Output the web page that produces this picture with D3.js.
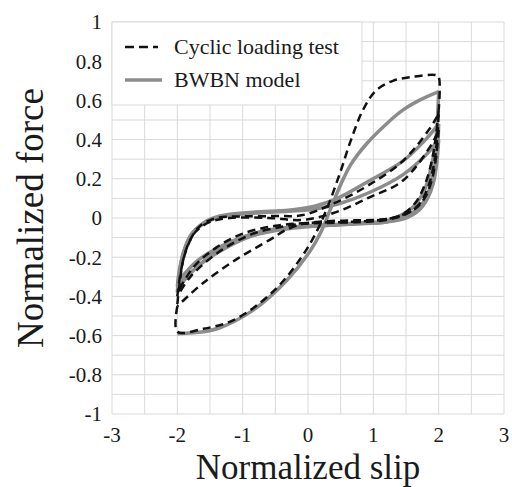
<!DOCTYPE html>
<html>
<head>
<meta charset="utf-8">
<script src="https://cdn.jsdelivr.net/npm/d3@7"></script>
<style>
  body { margin: 0; background: #fff; }
  svg text { font-family: "Liberation Serif", "Times New Roman", serif; fill: #1a1a1a; }
</style>
</head>
<body>
<div id="chart"></div>
<script>
// ticks
const xTicks = [-3, -2, -1, 0, 1, 2, 3]
const yTicks = [-1, -0.8, -0.6, -0.4, -0.2, 0, 0.2, 0.4, 0.6, 0.8, 1]
const xGrid = [-3, -2.5, -2, -1.5, -1, -0.5, 0, 0.5, 1, 1.5, 2, 2.5, 3]
const yGrid = d3.range(-10, 11).map(d => d / 10)

// cyclic loading test (dashed)
const testLoad1 = [[-2,-0.45],[-2,-0.58],[-1.6,-0.565],[-1.2,-0.53],[-0.84,-0.46],[-0.43,-0.34],[-0.1,-0.2],[0.1,-0.09],[0.28,0.04],[0.48,0.22],[0.66,0.4],[0.84,0.55],[1.04,0.65],[1.3,0.7],[1.6,0.72],[1.95,0.73],[2,0.72],[2,0.55]]
const testUnload1 = [[2,0.55],[1.96,0.42],[1.9,0.3],[1.8,0.18],[1.65,0.08],[1.45,0.02],[1.2,-0.005],[0.7,-0.012],[0.2,-0.018],[-0.08,-0.03],[-0.33,-0.06],[-0.58,-0.11],[-1.09,-0.21],[-1.6,-0.33],[-2,-0.45]]
const testLoad2 = [[-2,-0.44],[-1.96,-0.32],[-1.9,-0.2],[-1.8,-0.11],[-1.65,-0.04],[-1.4,0],[-1,0.008],[-0.5,0.01],[-0.08,0.015],[0.43,0.08],[0.94,0.17],[1.45,0.29],[1.85,0.45],[2,0.53]]
const testUnload2 = [[2,0.53],[1.97,0.38],[1.92,0.26],[1.83,0.15],[1.7,0.07],[1.5,0.02],[1.2,-0.01],[0.8,-0.02],[0.3,-0.025],[-0.1,-0.03],[-0.4,-0.045],[-0.84,-0.08],[-1.35,-0.17],[-1.8,-0.3],[-2,-0.4]]
const testLoad3 = [[-2,-0.4],[-1.95,-0.28],[-1.86,-0.16],[-1.72,-0.07],[-1.5,-0.02],[-1.2,0],[-0.6,0],[-0.08,-0.01],[0.43,0.03],[0.94,0.105],[1.45,0.19],[1.9,0.38],[2,0.45]]
const testUnload3 = [[2,0.45],[1.96,0.31],[1.9,0.2],[1.8,0.11],[1.65,0.05],[1.4,0.01],[1.1,-0.01],[0.6,-0.02],[0,-0.025],[-0.5,-0.04],[-1,-0.08],[-1.4,-0.15],[-1.75,-0.25],[-2,-0.38]]

// BWBN model (solid grey)
const modelLoad1 = [[-2,-0.59],[-1.6,-0.58],[-1.35,-0.56],[-0.84,-0.47],[-0.33,-0.32],[0.03,-0.17],[0.2,-0.07],[0.35,0.05],[0.5,0.17],[0.65,0.27],[0.9,0.38],[1.2,0.48],[1.45,0.55],[1.7,0.6],[2,0.645]]
const modelUnload1 = [[2,0.645],[1.98,0.5],[1.95,0.38],[1.88,0.25],[1.78,0.14],[1.62,0.06],[1.4,0.01],[1.2,-0.015],[0.8,-0.025],[0.3,-0.035],[-0.2,-0.045],[-0.58,-0.06],[-1,-0.1],[-1.4,-0.17],[-1.7,-0.25],[-1.9,-0.32],[-2,-0.38]]
const modelLoad2 = [[-2,-0.38],[-1.97,-0.28],[-1.9,-0.17],[-1.8,-0.09],[-1.6,-0.025],[-1.35,0.01],[-0.84,0.03],[-0.3,0.04],[0.1,0.06],[0.45,0.1],[0.94,0.19],[1.45,0.29],[1.8,0.4],[2,0.48]]
const modelUnload2 = [[2,0.48],[1.98,0.35],[1.93,0.24],[1.85,0.14],[1.72,0.06],[1.5,0.01],[1.2,-0.02],[0.7,-0.03],[0.2,-0.04],[-0.3,-0.055],[-0.84,-0.09],[-1.3,-0.16],[-1.7,-0.25],[-2,-0.35]]
const modelLoad3 = [[-2,-0.35],[-1.96,-0.25],[-1.88,-0.15],[-1.75,-0.07],[-1.55,-0.02],[-1.3,0.01],[-0.8,0.025],[-0.3,0.035],[0.1,0.045],[0.5,0.075],[0.94,0.13],[1.45,0.22],[1.8,0.32],[2,0.4]]
const modelUnload3 = [[2,0.4],[1.97,0.28],[1.92,0.18],[1.83,0.1],[1.7,0.04],[1.5,0],[1.2,-0.02],[0.7,-0.03],[0.2,-0.04],[-0.3,-0.05],[-0.84,-0.08],[-1.3,-0.14],[-1.7,-0.22],[-2,-0.33]]

const testCurves = [testLoad1, testUnload1, testLoad2, testUnload2, testLoad3, testUnload3]
const modelCurves = [modelLoad1, modelUnload1, modelLoad2, modelUnload2, modelLoad3, modelUnload3]

const W = 512, H = 487
const margin = {top: 22, right: 8, bottom: 73, left: 112}
const serif = "'Liberation Serif', 'Times New Roman', serif"

const svg = d3.select("#chart").append("svg")
    .attr("width", W)
    .attr("height", H)
    .attr("font-family", serif)

const xScale = d3.scaleLinear().domain([-3, 3]).range([margin.left, W - margin.right])
const yScale = d3.scaleLinear().domain([-1, 1]).range([H - margin.bottom, margin.top])

// grid
svg.append("g").selectAll("line").data(xGrid).join("line")
    .attr("x1", d => xScale(d)).attr("x2", d => xScale(d))
    .attr("y1", yScale(-1)).attr("y2", yScale(1))
    .attr("stroke", "#d9d9d9").attr("stroke-width", 1)

svg.append("g").selectAll("line").data(yGrid).join("line")
    .attr("x1", xScale(-3)).attr("x2", xScale(3))
    .attr("y1", d => yScale(d)).attr("y2", d => yScale(d))
    .attr("stroke", "#d9d9d9").attr("stroke-width", 1)

// tick labels
svg.append("g").selectAll("text").data(xTicks).join("text")
    .attr("x", d => xScale(d))
    .attr("y", yScale(-1) + 28)
    .attr("text-anchor", "middle")
    .attr("font-size", 21)
    .style("font-family", serif)
    .text(d => String(d))

svg.append("g").selectAll("text").data(yTicks).join("text")
    .attr("x", xScale(-3) - 10)
    .attr("y", d => yScale(d))
    .attr("dy", "0.35em")
    .attr("text-anchor", "end")
    .attr("font-size", 21)
    .style("font-family", serif)
    .text(d => String(Math.round(d * 10) / 10))

// axis titles
svg.append("text")
    .attr("x", xScale(0))
    .attr("y", 479)
    .attr("text-anchor", "middle")
    .attr("font-size", 35)
    .style("font-family", serif)
    .text("Normalized slip")

svg.append("text")
    .attr("transform", `translate(43, ${yScale(0)}) rotate(-90)`)
    .attr("text-anchor", "middle")
    .attr("font-size", 37)
    .style("font-family", serif)
    .text("Normalized force")

// curves
const line = d3.line()
    .x(d => xScale(d[0]))
    .y(d => yScale(d[1]))
    .curve(d3.curveCatmullRom.alpha(0.5))

svg.append("g").selectAll("path").data(modelCurves).join("path")
    .attr("d", line)
    .attr("fill", "none")
    .attr("stroke", "#8c8c8c")
    .attr("stroke-width", 3.5)

svg.append("g").selectAll("path").data(testCurves).join("path")
    .attr("d", line)
    .attr("fill", "none")
    .attr("stroke", "#111")
    .attr("stroke-width", 2.5)
    .attr("stroke-dasharray", "8,5")

// legend
const legend = svg.append("g")
legend.append("rect")
    .attr("x", xScale(-3)).attr("y", yScale(1))
    .attr("width", 250).attr("height", 83)
    .attr("fill", "#fff").attr("stroke", "#d9d9d9")

const legendItems = [
    {label: "Cyclic loading test", stroke: "#111", width: 2.5, dash: "9,5", y: 47, len: 33},
    {label: "BWBN model", stroke: "#8c8c8c", width: 3.5, dash: null, y: 80, len: 37}
]
legendItems.forEach(it => {
    legend.append("line")
        .attr("x1", 125).attr("x2", 125 + it.len)
        .attr("y1", it.y).attr("y2", it.y)
        .attr("stroke", it.stroke).attr("stroke-width", it.width)
        .attr("stroke-dasharray", it.dash)
    legend.append("text")
        .attr("x", 174).attr("y", it.y)
        .attr("dy", "0.33em")
        .attr("font-size", 22)
        .style("font-family", serif)
        .text(it.label)
})
</script>
</body>
</html>
